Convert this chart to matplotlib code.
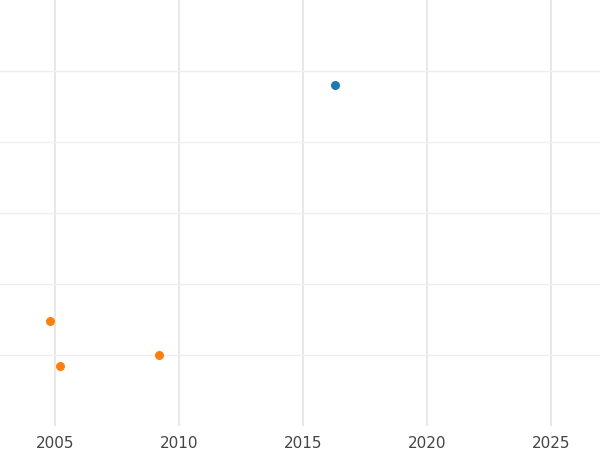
import matplotlib.pyplot as plt

blue_x = [2016.3]
blue_y = [4.8]
orange_x = [2004.8, 2005.2, 2009.2]
orange_y = [1.48, 0.85, 1.0]
xticks = [2005, 2010, 2015, 2020, 2025]

fig = plt.figure(figsize=(6, 4.5), dpi=100)
ax = fig.add_axes([0, 0.053, 1, 0.947])
ax.set_xlim(2002.78, 2026.97)
ax.set_ylim(0, 6)
ax.set_xticks(xticks)
ax.set_yticks([1, 2, 3, 4, 5])
ax.set_yticklabels([])
ax.tick_params(axis="x", length=0, labelsize=11, labelcolor="#444444", pad=7)
ax.tick_params(axis="y", length=0)
ax.grid(axis="x", color="#e8e8e8", linewidth=1.5)
ax.grid(axis="y", color="#efefef", linewidth=1)
ax.set_axisbelow(True)
for s in ax.spines.values():
    s.set_visible(False)

ax.scatter(blue_x, blue_y, s=30, color="#1f77b4", zorder=3)
ax.scatter(orange_x, orange_y, s=30, color="#ff7f0e", zorder=3)

fig.savefig("out.png")
